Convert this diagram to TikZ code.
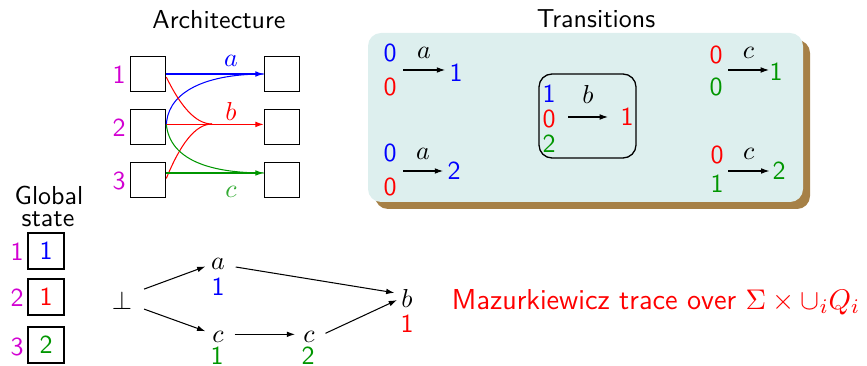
\documentclass[tikz,border=0pt]{standalone}
\usetikzlibrary{arrows.meta}
\definecolor{cblue}{RGB}{0,0,255}
\definecolor{cred}{RGB}{255,0,0}
\definecolor{cgreen}{RGB}{0,150,0}
\definecolor{cmag}{RGB}{210,0,210}
\definecolor{panelfill}{RGB}{221,239,238}
\definecolor{panelshadow}{RGB}{166,128,70}
\begin{document}
\begin{tikzpicture}[x=0.385pt,y=-0.385pt,font=\sffamily,
  box/.style={draw,line width=0.6pt,minimum size=13.5pt,inner sep=0pt},
  gbox/.style={draw,line width=0.6pt,minimum size=13.8pt,inner sep=0pt},
  lbl/.style={text=cmag,inner sep=0pt},
  tip/.style={-{Latex[length=3.2pt,width=2.2pt]}},
  txt/.style={inner sep=0pt},
  btxt/.style={inner sep=0pt,anchor=base}]
\useasboundingbox (0,0) rectangle (867,366);
% ---------- Architecture ----------
\node[txt] (archt) at (219,20) {Architecture};
\node[box] (L1) at (148,74) {};
\node[box] (L2) at (148,127) {};
\node[box] (L3) at (148,180) {};
\node[box] (R1) at (282,74) {};
\node[box] (R2) at (282,127) {};
\node[box] (R3) at (282,180) {};
\node[lbl] (n1) at (119,75) {1};
\node[lbl] (n2) at (119,128) {2};
\node[lbl] (n3) at (119,181) {3};
\draw[cblue,tip] (L1.east) -- (R1.west);
\draw[cblue] (L2.east) .. controls (166,95) and (200,74) .. (R1.west);
\coordinate (mb) at (212,124);
\draw[cred] ([yshift=-1.2pt]L1.east) .. controls (180,105) and (195,124) .. (mb);
\draw[cred] ([yshift=0.6pt]L3.east) .. controls (180,145) and (195,124) .. (mb);
\draw[cred,tip] ([yshift=1pt]L2.east) -- ([yshift=1pt]R2.west);
\draw[cgreen] ([yshift=1pt]L2.east) .. controls (170,160) and (210,173) .. ([yshift=2.7pt]R3.west);
\draw[cgreen,tip] ([yshift=2.7pt]L3.east) -- ([yshift=2.7pt]R3.west);
\node[txt,text=cblue] (la) at (231,61) {$a$};
\node[txt,text=cred] (lb) at (231,111) {$b$};
\node[txt,text=cgreen!80!white] (lc) at (231,192) {$c$};
% ---------- Transitions ----------
\node[txt] (trt) at (596,19) {Transitions};
\fill[panelshadow,rounded corners=5pt] (375,40) rectangle (810,209);
\fill[panelfill,rounded corners=5pt] (368,33) rectangle (803,202) ;
% top-left
\node[txt,text=cblue] (t1a) at (390,53) {0};
\node[txt,text=cred] (t1b) at (390,87) {0};
\coordinate (t1s) at (403,70);
\node[txt,text=cblue] (t1r) at (456,73) {1};
\draw[tip] (t1s) -- ([xshift=-1.5pt]t1s -| t1r.west) node[midway,above=1pt,text=black] (t1l) {$a$};
% bottom-left
\node[txt,text=cblue] (t2a) at (390,153) {0};
\node[txt,text=cred] (t2b) at (390,187) {0};
\coordinate (t2s) at (403,171);
\node[txt,text=cblue] (t2r) at (454,171) {2};
\draw[tip] (t2s) -- ([xshift=-1.5pt]t2s -| t2r.west) node[midway,above=1pt,text=black] (t2l) {$a$};
% middle
\draw[rounded corners=5pt,line width=0.5pt] (539,74) rectangle (636,158);
\node[txt,text=cblue] (m1) at (549,94) {1};
\node[txt,text=cred] (m2) at (549,119) {0};
\node[txt,text=cgreen] (m3) at (549,144) {2};
\node[txt,text=cred] (mr) at (627,117) {1};
\coordinate (ms) at (568,117);
\coordinate (me) at (608,117);
\draw[tip] (ms) -- (me) node[midway,above=1.5pt,text=black] (ml) {$b$};
% top-right
\node[txt,text=cred] (t3a) at (716,55) {0};
\node[txt,text=cgreen] (t3b) at (716,87) {0};
\coordinate (t3s) at (728,70);
\node[txt,text=cgreen] (t3r) at (776,72) {1};
\draw[tip] (t3s) -- (t3s -| t3r.west) node[midway,above=1pt,text=black] (t3l) {$c$};
% bottom-right
\node[txt,text=cred] (t4a) at (717,155) {0};
\node[txt,text=cgreen] (t4b) at (717,184) {1};
\coordinate (t4s) at (728,171);
\node[txt,text=cgreen] (t4r) at (779,171) {2};
\draw[tip] (t4s) -- ([xshift=-1pt]t4s -| t4r.west) node[midway,above=1pt,text=black] (t4l) {$c$};
% ---------- Global state ----------
\node[btxt] (gs1) at (49,205) {Global};
\node[btxt] (gs2) at (48,226) {state};
\node[gbox,text=cblue] (g1) at (46,251) {1};
\node[gbox,text=cred] (g2) at (46,297) {1};
\node[gbox,text=cgreen] (g3) at (46,345) {2};
\node[lbl] (gl1) at (17,252) {1};
\node[lbl] (gl2) at (17,298) {2};
\node[lbl] (gl3) at (17,347) {3};
% ---------- Trace ----------
\node[txt] (bot) at (122,300) {$\bot$};
\node[btxt] (ea) at (218,270) {$a$};
\node[btxt,text=cblue] (ea1) at (218,295) {1};
\node[btxt] (ec1) at (218,342) {$c$};
\node[btxt,text=cgreen] (ec11) at (217,364) {1};
\node[btxt] (ec2) at (309,342) {$c$};
\node[btxt,text=cgreen] (ec21) at (308,364) {2};
\node[btxt] (eb) at (407,307) {$b$};
\node[btxt,text=cred] (eb1) at (407,332) {1};
\draw[tip] ([xshift=8.5pt,yshift=4.2pt]bot.center) -- ([xshift=-2pt,yshift=-0.8pt]ea.west);
\draw[tip] ([xshift=8.5pt,yshift=-3.5pt]bot.center) -- ([xshift=-2.5pt,yshift=2pt]ec1.west);
\draw[tip] ([xshift=4pt,yshift=-1pt]ea.east) -- ([xshift=-2.5pt,yshift=2pt]eb.west);
\draw[tip] ([xshift=4pt,yshift=0.8pt]ec1.east) -- ([xshift=-3pt,yshift=0.8pt]ec2.west);
\draw[tip] ([xshift=4pt,yshift=1.2pt]ec2.east) -- ([xshift=-1.5pt,yshift=-0.8pt]eb.west);
\node[txt,text=cred,font=\sffamily\fontsize{11.1}{13}\selectfont] (maz) at (656,302) {Mazurkiewicz trace over $\Sigma\times\cup_i Q_i$};
\end{tikzpicture}
\end{document}
